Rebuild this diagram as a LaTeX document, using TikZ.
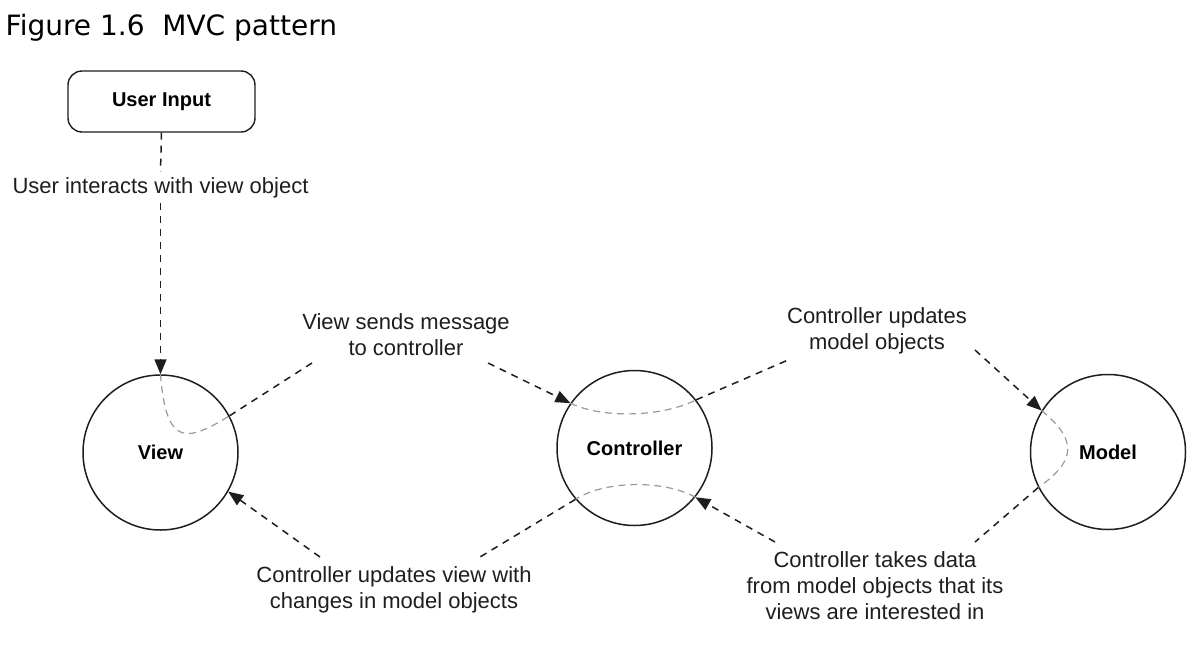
\documentclass[tikz,border=0pt]{standalone}
\usepackage{fontspec}
\setmainfont{Liberation Sans}
\newfontfamily\titlefont{DejaVu Sans}
\usetikzlibrary{arrows.meta}
\definecolor{ink}{HTML}{1E1E1E}
\definecolor{ghost}{HTML}{9A9A9A}
\begin{document}
\begin{tikzpicture}[x=1pt,y=-1pt,
  flow/.style={draw=ink, line width=1.5pt, dash pattern=on 7pt off 6pt},
  insideflow/.style={draw=ghost, line width=1.2pt, dash pattern=on 7pt off 5pt},
  tip/.style={-{Triangle[length=15pt,width=12pt]}},
  obj/.style={circle, draw=ink, line width=1.5pt, minimum size=155pt, inner sep=0pt,
    font=\fontsize{20}{24}\selectfont\bfseries},
  lbl/.style={align=center, inner sep=4pt, font=\fontsize{22}{26}\selectfont, text=ink}
]
\useasboundingbox[fill=white] (0,0) rectangle (1202,648);

\node[anchor=base west, inner sep=0pt, text=black,
  font=\titlefont\fontsize{28}{32}\selectfont] (title) at (5.5,35) {Figure 1.6~ MVC pattern};

\node[draw=ink, line width=1.4pt, rounded corners=14pt, minimum width=187pt, minimum height=61pt,
  font=\fontsize{20}{24}\selectfont\bfseries] (input) at (161.5,101.5) {User Input};

\node[obj] (view) at (160.5,452.5) {View};
\node[obj] (controller) at (634.5,448) {Controller};
\node[obj] (model) at (1108,452) {Model};

\node[lbl, anchor=base, inner ysep=5pt] (l1) at (160.5,193) {User interacts with view object};
\node[lbl] (l2) at (406,334.6) {View sends message\\to controller};
\node[lbl] (l3) at (877,330.8) {Controller updates\\model objects};
\node[lbl] (l4) at (875,586) {Controller takes data\\from model objects that its\\views are interested in};
\node[lbl] (l5) at (394,590.3) {Controller updates view with\\changes in model objects};

\coordinate (a2) at (312,363);
\coordinate (b2) at (488,363);
\coordinate (a3) at (788,360);
\coordinate (b3) at (975,350);
\coordinate (a4) at (975,542);
\coordinate (b4) at (775,542);
\coordinate (a5) at (480,557);
\coordinate (b5) at (320,557);

% user input -> view
\draw[flow] (input.south) -- (l1.north);
\draw[flow, tip] (l1.south) -- (view.north);
\draw[insideflow] (view.north) .. controls (166,445) and (185,443.5) .. (view.28);
\draw[flow] (view.28) -- (a2);

% view -> controller
\draw[flow, tip] (b2) -- (controller.145);
\draw[insideflow] (controller.145) .. controls (600,418) and (660,418) .. (controller.38);
\draw[flow] (controller.38) -- (a3);

% controller -> model
\draw[flow, tip] (b3) -- (model.148);
\draw[insideflow] (model.148) .. controls (1077,440) and (1077,460) .. (model.207);
\draw[flow] (model.207) -- (a4);

% model -> controller
\draw[flow, tip] (b4) -- (controller.-39);
\draw[insideflow] (controller.-39) .. controls (665,480) and (605,480) .. (controller.-139);
\draw[flow] (controller.-139) -- (a5);

% controller -> view
\draw[flow, tip] (b5) -- (view.-30);
\end{tikzpicture}
\end{document}
